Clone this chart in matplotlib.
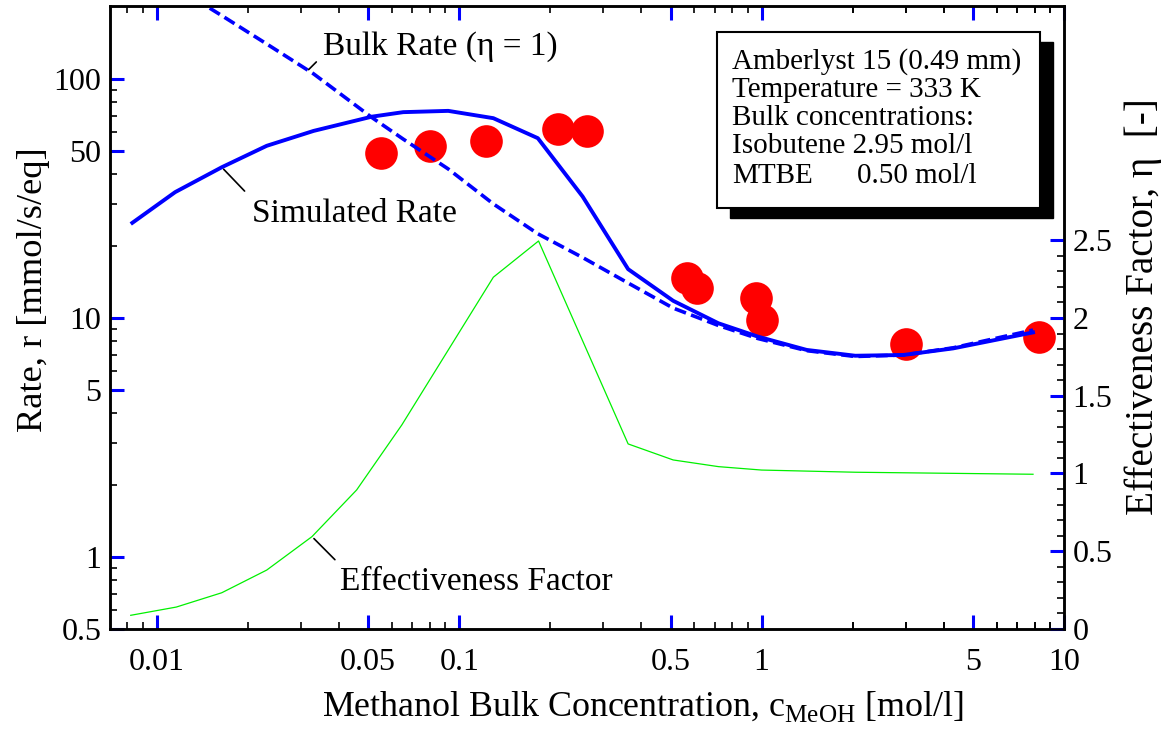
import matplotlib
matplotlib.use("Agg")
import matplotlib.pyplot as plt
from matplotlib.patches import Rectangle

plt.rcParams["font.family"] = ["Liberation Serif", "DejaVu Serif"]
plt.rcParams["mathtext.fontset"] = "custom"
plt.rcParams["mathtext.rm"] = "Liberation Serif"

# -----------------------------
# Data
# -----------------------------
# simulated rate, solid blue line [mmol/s/eq]
c_sim = [0.0083, 0.0115, 0.0164, 0.0231, 0.033, 0.0514, 0.0653, 0.092, 0.1297,
         0.182, 0.256, 0.362, 0.51, 0.72, 0.974, 1.41, 2.04, 2.94, 4.3, 7.9]
r_sim = [25.0, 33.6, 42.7, 52.5, 60.6, 69.5, 72.6, 73.5, 68.5,
         56.5, 32.2, 16.0, 11.8, 9.5, 8.35, 7.35, 6.95, 7.0, 7.46, 8.7]

# bulk rate (eta = 1), dashed blue line
c_bulk = [0.0115, 0.0164, 0.0231, 0.033, 0.0514, 0.0653, 0.092, 0.1297, 0.182,
          0.256, 0.362, 0.51, 0.72, 0.974, 1.41, 2.04, 2.94, 4.3, 7.9]
r_bulk = [243.0, 184.0, 140.0, 105.0, 69.0, 56.0, 42.0, 30.0, 22.5,
          17.9, 14.0, 11.0, 9.3, 8.2, 7.3, 6.9, 7.0, 7.5, 8.9]

# effectiveness factor, green line (right axis)
c_eta = [0.0082, 0.0116, 0.0164, 0.0231, 0.0326, 0.0458, 0.0646, 0.1297,
         0.183, 0.362, 0.51, 0.72, 1.0, 2.04, 7.9]
eta = [0.088, 0.141, 0.233, 0.379, 0.594, 0.894, 1.312, 2.262,
       2.495, 1.19, 1.087, 1.044, 1.022, 1.008, 0.995]

# experimental points
c_exp = [0.0551, 0.080, 0.1227, 0.213, 0.265, 0.565, 0.610, 0.957, 1.0, 3.0, 8.28]
r_exp = [48.9, 52.2, 55.1, 61.7, 60.6, 14.7, 13.3, 12.1, 9.8, 7.8, 8.35]

# ticks
x_major = [0.01, 0.05, 0.1, 0.5, 1, 5, 10]
x_labels = ["0.01", "0.05", "0.1", "0.5", "1", "5", "10"]
y_major = [0.5, 1, 5, 10, 50, 100]
y_labels = ["0.5", "1", "5", "10", "50", "100"]
eta_major = [0, 0.5, 1, 1.5, 2, 2.5]
eta_labels = ["0", "0.5", "1", "1.5", "2", "2.5"]

box_lines = ["Amberlyst 15 (0.49 mm)", "Temperature = 333 K",
             "Bulk concentrations:", "Isobutene 2.95 mol/l", "MTBE"]

W, H = 1171, 733

# -----------------------------
# Figure
# -----------------------------
fig = plt.figure(figsize=(W / 100, H / 100), dpi=100)
ax = fig.add_axes([0.0939, 0.1419, 0.8147, 0.8499])
ax2 = ax.twinx()

ax.set_xscale("log"); ax.set_yscale("log")
ax.set_xlim(0.007, 10)
ax.set_ylim(0.5, 201.8)
ax2.set_ylim(0, 4.006)

ax.plot(c_exp, r_exp, "o", color="red", ms=23.5, mec="none", zorder=2)
ax.plot(c_sim, r_sim, "-", color="blue", lw=2.8, zorder=3)
ax.plot(c_bulk, r_bulk, "--", color="blue", lw=2.6, dashes=(3.3, 1.5), zorder=3)
ax2.plot(c_eta, eta, "-", color="#00f000", lw=0.9)

# ticks
dec = [1, 10, 100]
x_minor = [0.008, 0.009] + [k * d / 100 for d in dec for k in range(2, 10) if k != 5] + \
          [k for k in range(2, 10) if k != 5]
y_minor = [0.6, 0.7, 0.8, 0.9] + [k * d for d in dec for k in range(2, 10) if k != 5]
y_minor = [v for v in y_minor if v < 200]
eta_minor = [i / 10 for i in range(1, 25) if i % 5 != 0]

ax.set_xticks(x_major); ax.set_xticklabels(x_labels)
ax.set_xticks(x_minor, minor=True); ax.set_xticklabels([], minor=True)
ax.set_yticks(y_major); ax.set_yticklabels(y_labels)
ax.set_yticks(y_minor, minor=True); ax.set_yticklabels([], minor=True)
ax2.set_yticks(eta_major); ax2.set_yticklabels(eta_labels)
ax2.set_yticks(eta_minor, minor=True)

for a in (ax, ax2):
    a.tick_params(which="major", direction="in", length=10, width=2.2, color="blue",
                  labelsize=23)
    a.tick_params(which="minor", direction="in", length=5, width=1.2, color="black")
    for s in a.spines.values():
        s.set_linewidth(1.8)
ax.tick_params(axis="x", which="both", top=True, bottom=True, pad=14)
ax.tick_params(axis="y", which="both", left=True, right=False, pad=6)
ax2.tick_params(axis="y", which="both", left=False, right=True, pad=6)

# axis labels
ylab_l = fig.text(34 / W, 1 - 290 / H, "Rate, r [mmol/s/eq]", rotation=90,
                  ha="center", va="center", fontsize=24)
ylab_r = fig.text(1143 / W, 1 - 307 / H, "Effectiveness Factor, η  [-]", rotation=90,
                  ha="center", va="center", fontsize=24)
xlab = fig.text(642.5 / W, 1 - 716 / H,
                r"Methanol Bulk Concentration, c$_{\mathregular{MeOH}}$ [mol/l]",
                ha="center", va="baseline", fontsize=24)

# curve labels with leader lines
ax.annotate("", xy=(0.0313, 107.3), xytext=(0.0342, 120),
            arrowprops=dict(arrowstyle="-", color="black", lw=1.2))
ax.text(0.0355, 126, "Bulk Rate (η = 1)", fontsize=24, va="baseline")
ax.annotate("", xy=(0.0164, 42.7), xytext=(0.0198, 33.3),
            arrowprops=dict(arrowstyle="-", color="black", lw=1.2))
ax.text(0.0206, 25.3, "Simulated Rate", fontsize=24, va="baseline")
ax2.annotate("", xy=(0.0326, 0.594), xytext=(0.0394, 0.433),
             arrowprops=dict(arrowstyle="-", color="black", lw=1.2))
ax2.text(0.0404, 0.251, "Effectiveness Factor", fontsize=24, va="baseline")

# info box with drop shadow
bx0, by0, bw, bh = 0.636, 0.675, 0.339, 0.283
ax2.add_patch(Rectangle((bx0 + 0.0136, by0 - 0.016), bw, bh, transform=ax.transAxes,
                        facecolor="black", edgecolor="black", zorder=5, clip_on=False))
ax2.add_patch(Rectangle((bx0, by0), bw, bh, transform=ax.transAxes,
                        facecolor="white", edgecolor="black", lw=1.5, zorder=6,
                        clip_on=False))
baselines = [0.900, 0.8542, 0.809, 0.7635, 0.7154]
for txt, yb in zip(box_lines, baselines):
    ax2.text(0.652, yb, txt, transform=ax.transAxes, fontsize=21, va="baseline", zorder=7)
ax2.text(0.7827, baselines[-1], "0.50 mol/l", transform=ax.transAxes, fontsize=21,
         va="baseline", zorder=7)

# scale the axis labels to the lengths they have in the original
fig.canvas.draw()
rend = fig.canvas.get_renderer()
for t, target, vertical in [(xlab, 642, False), (ylab_l, 284, True), (ylab_r, 418, True)]:
    bb = t.get_window_extent(rend)
    size = bb.height if vertical else bb.width
    t.set_fontsize(t.get_fontsize() * target / size)

fig.savefig("out.png", dpi=100)
